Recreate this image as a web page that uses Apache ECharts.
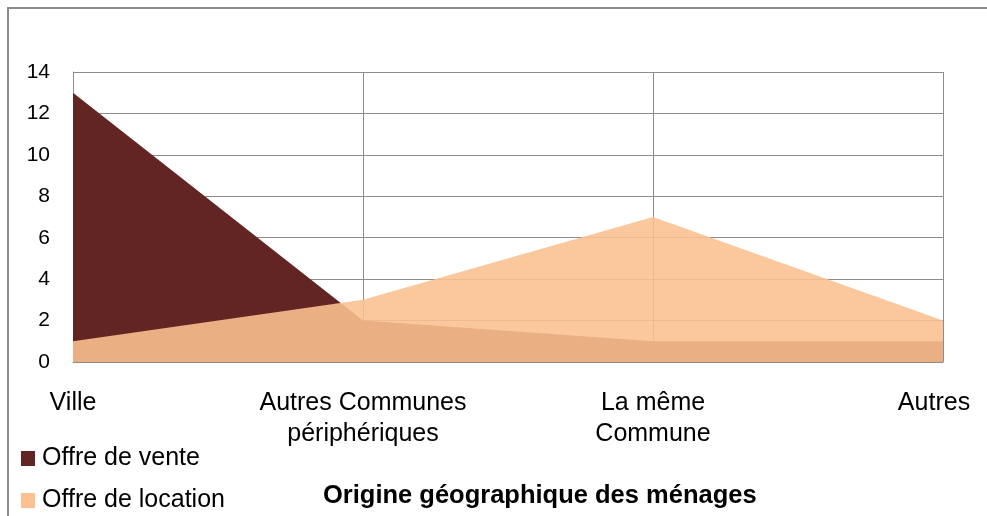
<!DOCTYPE html>
<html>
<head>
<meta charset="utf-8">
<script src="https://cdn.jsdelivr.net/npm/echarts@6/dist/echarts.min.js"></script>
<style>
html,body{margin:0;padding:0;background:#fff;}
#chart{width:987px;height:516px;}
</style>
</head>
<body>
<div id="chart"></div>
<script>
// Origine géographique des ménages
const categories = ['Ville', 'Autres Communes\npériphériques', 'La même\nCommune', 'Autres'];
const offreVente = [13, 2, 1, 1];
const offreLocation = [1, 3, 7, 2];
const yTicks = { min: 0, max: 14, interval: 2 };

const FONT = '"Liberation Sans", Arial, sans-serif';
const chart = echarts.init(document.getElementById('chart'));
chart.setOption({
  animation: false,
  backgroundColor: '#fff',
  textStyle: { fontFamily: FONT, color: '#000' },
  graphic: [
    {
      type: 'rect',
      shape: { x: 8, y: 8, width: 1100, height: 600 },
      style: { fill: 'none', stroke: '#8a8a8a', lineWidth: 2 },
      silent: true, z: 10
    },
    {
      type: 'text', left: 323, top: 483,
      style: { text: 'Origine géographique des ménages', fill: '#000', font: 'bold 25.5px ' + FONT },
      silent: true
    }
  ],
  grid: { left: 73, right: 44, top: 72, bottom: 154, containLabel: false, outerBoundsMode: 'none' },
  legend: {
    orient: 'vertical', left: 21, top: 446, itemGap: 17, padding: 0,
    icon: 'rect', itemWidth: 14, itemHeight: 15,
    textStyle: { fontSize: 25, lineHeight: 25, color: '#000', fontFamily: FONT, padding: [0, 0, 0, 2] },
    data: ['Offre de vente', 'Offre de location']
  },
  xAxis: {
    type: 'category', data: categories, boundaryGap: false,
    axisLine: { lineStyle: { color: '#8c8c8c' } },
    axisTick: { show: false },
    axisLabel: {
      fontSize: 25, color: '#000', margin: 26, lineHeight: 31, interval: 0,
      formatter: function (v, i) { return i === categories.length - 1 ? '{last|' + v + '}' : v; },
      rich: { last: { fontSize: 25, color: '#000', padding: [0, 18, 0, 0] } }
    },
    splitLine: { show: true, lineStyle: { color: '#8c8c8c', width: 1 } }
  },
  yAxis: {
    type: 'value', min: yTicks.min, max: yTicks.max, interval: yTicks.interval,
    axisLine: { show: true, lineStyle: { color: '#8c8c8c' } },
    axisTick: { show: false },
    axisLabel: { fontSize: 21, color: '#000', margin: 23 },
    splitLine: { lineStyle: { color: '#8c8c8c', width: 1 } }
  },
  series: [
    {
      name: 'Offre de vente', type: 'line', data: offreVente,
      symbol: 'none', lineStyle: { width: 0 },
      itemStyle: { color: '#632523' },
      areaStyle: { color: '#632523', opacity: 1 }, z: 2
    },
    {
      name: 'Offre de location', type: 'line', data: offreLocation,
      symbol: 'none', lineStyle: { width: 0 },
      itemStyle: { color: '#FAC090' },
      areaStyle: { color: '#FAC090', opacity: 0.89 }, z: 3
    }
  ]
});
</script>
</body>
</html>
